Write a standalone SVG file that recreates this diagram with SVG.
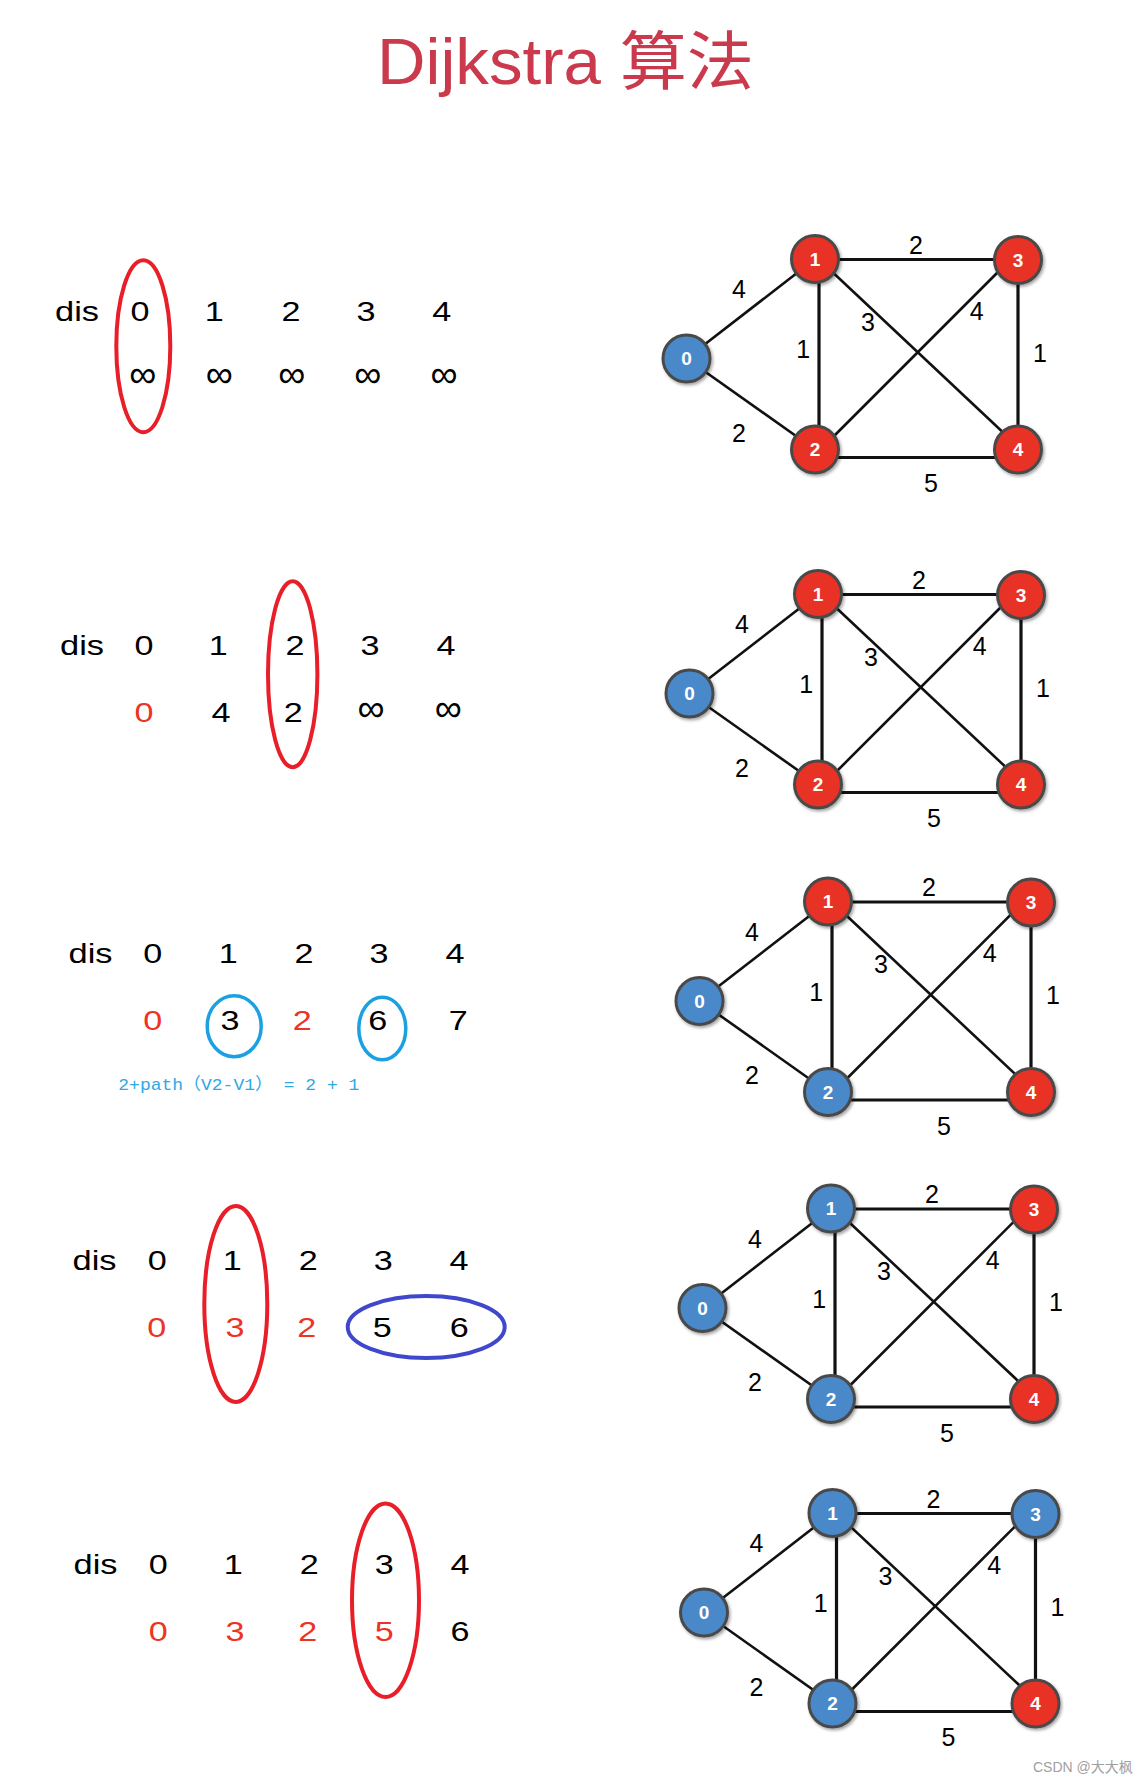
<svg xmlns="http://www.w3.org/2000/svg" width="1148" height="1784" viewBox="0 0 1148 1784">
<defs>
<style>
text{font-family:"Liberation Sans",Arial,"Noto Sans CJK SC",sans-serif}
.title{font-size:64px;fill:#cb3a4c}
.t{font-size:28.5px;fill:#000;text-anchor:middle}
.inf{font-size:38px;fill:#000;text-anchor:middle}
.dis{font-size:28.5px;fill:#000}
.r{fill:#ec3324}
.el{font-size:25px;fill:#000;text-anchor:middle}
.nl{font-size:19px;font-weight:bold;fill:#fff;text-anchor:middle}
.e{stroke:#111;stroke-width:3.2;fill:none}
.d{stroke:#111;stroke-width:2.6;fill:none}
.nb{fill:#4a89c9;stroke:#4a4a4a;stroke-width:3;filter:url(#sh)}
.nr{fill:#e93125;stroke:#4a4a4a;stroke-width:3;filter:url(#sh)}
.ring{fill:none;stroke:#e81e28;stroke-width:4}
.cyan{fill:none;stroke:#1ba1e2;stroke-width:3.5}
.indigo{fill:none;stroke:#3f48cc;stroke-width:4}
.note{font-family:"Liberation Mono","Noto Sans CJK SC",monospace;font-size:17px;fill:#2fa8e6}
.wm{font-family:"Liberation Sans","Noto Sans CJK SC",sans-serif;font-size:14px;fill:#a0a0a0}
</style>
<filter id="sh" x="-30%" y="-30%" width="170%" height="170%">
<feDropShadow dx="1.5" dy="2" stdDeviation="1.5" flood-color="#000" flood-opacity="0.35"/>
</filter>
<g id="edges">
<line class="d" x1="0" y1="0" x2="128.5" y2="-99.5"/>
<line class="d" x1="0" y1="0" x2="128.5" y2="91"/>
<line class="e" x1="132.5" y1="-99.5" x2="132.5" y2="91"/>
<line class="e" x1="128.5" y1="-99" x2="331.5" y2="-99"/>
<line class="e" x1="331.5" y1="-98.5" x2="331.5" y2="91"/>
<line class="e" x1="128.5" y1="99" x2="331.5" y2="99"/>
<line class="d" x1="140" y1="-92" x2="322" y2="79"/>
<line class="d" x1="140" y1="85" x2="318" y2="-93"/>
</g>
<g id="elabels">
<text class="el" x="52.5" y="-60.3">4</text>
<text class="el" x="229.5" y="-104.6">2</text>
<text class="el" x="181.5" y="-27.9">3</text>
<text class="el" x="290.2" y="-38.6">4</text>
<text class="el" x="116.8" y="-0.3">1</text>
<text class="el" x="353.5" y="3.1">1</text>
<text class="el" x="52.5" y="83.1">2</text>
<text class="el" x="244.5" y="133.7">5</text>
</g>
</defs>

<text class="title" x="377" y="84" textLength="377" lengthAdjust="spacingAndGlyphs">Dijkstra 算法</text>

<!-- Table 1 -->
<g id="table1">
<text class="dis" x="55" y="321" textLength="44" lengthAdjust="spacingAndGlyphs">dis</text>
<text class="t" x="140" y="321" textLength="19" lengthAdjust="spacingAndGlyphs">0</text>
<text class="t" x="214.3" y="321" textLength="19" lengthAdjust="spacingAndGlyphs">1</text>
<text class="t" x="291" y="321" textLength="19" lengthAdjust="spacingAndGlyphs">2</text>
<text class="t" x="366" y="321" textLength="19" lengthAdjust="spacingAndGlyphs">3</text>
<text class="t" x="441.7" y="321" textLength="19" lengthAdjust="spacingAndGlyphs">4</text>
<text class="inf" x="142.7" y="387.3">∞</text>
<text class="inf" x="219.3" y="387.3">∞</text>
<text class="inf" x="291.7" y="387.3">∞</text>
<text class="inf" x="367.7" y="387.3">∞</text>
<text class="inf" x="444" y="387.3">∞</text>
<ellipse class="ring" cx="143.3" cy="346.2" rx="27" ry="86"/>
</g>

<!-- Table 2 -->
<g id="table2">
<text class="dis" x="60" y="655" textLength="44" lengthAdjust="spacingAndGlyphs">dis</text>
<text class="t" x="144" y="655" textLength="19" lengthAdjust="spacingAndGlyphs">0</text>
<text class="t" x="218.3" y="655" textLength="19" lengthAdjust="spacingAndGlyphs">1</text>
<text class="t" x="295" y="655" textLength="19" lengthAdjust="spacingAndGlyphs">2</text>
<text class="t" x="370" y="655" textLength="19" lengthAdjust="spacingAndGlyphs">3</text>
<text class="t" x="446" y="655" textLength="19" lengthAdjust="spacingAndGlyphs">4</text>
<text class="t r" x="144" y="721.7" textLength="19" lengthAdjust="spacingAndGlyphs">0</text>
<text class="t" x="221" y="721.7" textLength="19" lengthAdjust="spacingAndGlyphs">4</text>
<text class="t" x="293.3" y="721.7" textLength="19" lengthAdjust="spacingAndGlyphs">2</text>
<text class="inf" x="371" y="720.7">∞</text>
<text class="inf" x="448.3" y="720.7">∞</text>
<ellipse class="ring" cx="292.7" cy="674.3" rx="24.7" ry="93"/>
</g>

<!-- Table 3 -->
<g id="table3">
<text class="dis" x="68.5" y="963.3" textLength="44" lengthAdjust="spacingAndGlyphs">dis</text>
<text class="t" x="152.7" y="963.3" textLength="19" lengthAdjust="spacingAndGlyphs">0</text>
<text class="t" x="228.3" y="963.3" textLength="19" lengthAdjust="spacingAndGlyphs">1</text>
<text class="t" x="304" y="963.3" textLength="19" lengthAdjust="spacingAndGlyphs">2</text>
<text class="t" x="379" y="963.3" textLength="19" lengthAdjust="spacingAndGlyphs">3</text>
<text class="t" x="455" y="963.3" textLength="19" lengthAdjust="spacingAndGlyphs">4</text>
<text class="t r" x="152.7" y="1030" textLength="19" lengthAdjust="spacingAndGlyphs">0</text>
<text class="t" x="230" y="1030" textLength="19" lengthAdjust="spacingAndGlyphs">3</text>
<text class="t r" x="302.3" y="1030" textLength="19" lengthAdjust="spacingAndGlyphs">2</text>
<text class="t" x="377.7" y="1030" textLength="19" lengthAdjust="spacingAndGlyphs">6</text>
<text class="t" x="458.3" y="1030" textLength="19" lengthAdjust="spacingAndGlyphs">7</text>
<ellipse class="cyan" cx="234.2" cy="1026.2" rx="27" ry="30.5"/>
<ellipse class="cyan" cx="382.3" cy="1028.5" rx="23.5" ry="31.3"/>
<text class="note" x="118.3" y="1090" textLength="241" lengthAdjust="spacingAndGlyphs">2+path（V2-V1） = 2 + 1</text>
</g>

<!-- Table 4 -->
<g id="table4">
<text class="dis" x="72.5" y="1270" textLength="44" lengthAdjust="spacingAndGlyphs">dis</text>
<text class="t" x="157.3" y="1270" textLength="19" lengthAdjust="spacingAndGlyphs">0</text>
<text class="t" x="232.3" y="1270" textLength="19" lengthAdjust="spacingAndGlyphs">1</text>
<text class="t" x="308.3" y="1270" textLength="19" lengthAdjust="spacingAndGlyphs">2</text>
<text class="t" x="383.3" y="1270" textLength="19" lengthAdjust="spacingAndGlyphs">3</text>
<text class="t" x="459" y="1270" textLength="19" lengthAdjust="spacingAndGlyphs">4</text>
<text class="t r" x="156.7" y="1336.7" textLength="19" lengthAdjust="spacingAndGlyphs">0</text>
<text class="t r" x="235" y="1336.7" textLength="19" lengthAdjust="spacingAndGlyphs">3</text>
<text class="t r" x="306.7" y="1336.7" textLength="19" lengthAdjust="spacingAndGlyphs">2</text>
<text class="t" x="382.3" y="1336.7" textLength="19" lengthAdjust="spacingAndGlyphs">5</text>
<text class="t" x="459.3" y="1336.7" textLength="19" lengthAdjust="spacingAndGlyphs">6</text>
<ellipse class="ring" cx="235.8" cy="1304" rx="31.5" ry="98"/>
<ellipse class="indigo" cx="426.2" cy="1327" rx="78.5" ry="31"/>
</g>

<!-- Table 5 -->
<g id="table5">
<text class="dis" x="73.5" y="1574" textLength="44" lengthAdjust="spacingAndGlyphs">dis</text>
<text class="t" x="158.3" y="1574" textLength="19" lengthAdjust="spacingAndGlyphs">0</text>
<text class="t" x="233.3" y="1574" textLength="19" lengthAdjust="spacingAndGlyphs">1</text>
<text class="t" x="309.3" y="1574" textLength="19" lengthAdjust="spacingAndGlyphs">2</text>
<text class="t" x="384.3" y="1574" textLength="19" lengthAdjust="spacingAndGlyphs">3</text>
<text class="t" x="460" y="1574" textLength="19" lengthAdjust="spacingAndGlyphs">4</text>
<text class="t r" x="158.3" y="1640.7" textLength="19" lengthAdjust="spacingAndGlyphs">0</text>
<text class="t r" x="235" y="1640.7" textLength="19" lengthAdjust="spacingAndGlyphs">3</text>
<text class="t r" x="307.7" y="1640.7" textLength="19" lengthAdjust="spacingAndGlyphs">2</text>
<text class="t r" x="384.3" y="1640.7" textLength="19" lengthAdjust="spacingAndGlyphs">5</text>
<text class="t" x="460" y="1640.7" textLength="19" lengthAdjust="spacingAndGlyphs">6</text>
<ellipse class="ring" cx="385.5" cy="1600.3" rx="33.5" ry="96.7"/>
</g>

<!-- Connectors -->
<g id="connectors">
<g transform="translate(686.5,358.5)"><use href="#edges"/><use href="#elabels"/></g>
<g transform="translate(689.5,693.5)"><use href="#edges"/><use href="#elabels"/></g>
<g transform="translate(699.5,1001)"><use href="#edges"/><use href="#elabels"/></g>
<g transform="translate(702.5,1308)"><use href="#edges"/><use href="#elabels"/></g>
<g transform="translate(704,1612.5)"><use href="#edges"/><use href="#elabels"/></g>
</g>

<!-- Graph 1 nodes -->
<g transform="translate(686.5,358.5)">
<g id="g1-n0"><circle class="nb" cx="0" cy="0" r="23.5"/><text class="nl" x="0" y="6.8">0</text></g>
<g id="g1-n1"><circle class="nr" cx="128.5" cy="-99.5" r="23.5"/><text class="nl" x="128.5" y="-92.7">1</text></g>
<g id="g1-n2"><circle class="nr" cx="128.5" cy="91" r="23.5"/><text class="nl" x="128.5" y="97.8">2</text></g>
<g id="g1-n3"><circle class="nr" cx="331.5" cy="-98.5" r="23.5"/><text class="nl" x="331.5" y="-91.7">3</text></g>
<g id="g1-n4"><circle class="nr" cx="331.5" cy="91" r="23.5"/><text class="nl" x="331.5" y="97.8">4</text></g>
</g>
<!-- Graph 2 nodes -->
<g transform="translate(689.5,693.5)">
<g id="g2-n0"><circle class="nb" cx="0" cy="0" r="23.5"/><text class="nl" x="0" y="6.8">0</text></g>
<g id="g2-n1"><circle class="nr" cx="128.5" cy="-99.5" r="23.5"/><text class="nl" x="128.5" y="-92.7">1</text></g>
<g id="g2-n2"><circle class="nr" cx="128.5" cy="91" r="23.5"/><text class="nl" x="128.5" y="97.8">2</text></g>
<g id="g2-n3"><circle class="nr" cx="331.5" cy="-98.5" r="23.5"/><text class="nl" x="331.5" y="-91.7">3</text></g>
<g id="g2-n4"><circle class="nr" cx="331.5" cy="91" r="23.5"/><text class="nl" x="331.5" y="97.8">4</text></g>
</g>
<!-- Graph 3 nodes -->
<g transform="translate(699.5,1001)">
<g id="g3-n0"><circle class="nb" cx="0" cy="0" r="23.5"/><text class="nl" x="0" y="6.8">0</text></g>
<g id="g3-n1"><circle class="nr" cx="128.5" cy="-99.5" r="23.5"/><text class="nl" x="128.5" y="-92.7">1</text></g>
<g id="g3-n2"><circle class="nb" cx="128.5" cy="91" r="23.5"/><text class="nl" x="128.5" y="97.8">2</text></g>
<g id="g3-n3"><circle class="nr" cx="331.5" cy="-98.5" r="23.5"/><text class="nl" x="331.5" y="-91.7">3</text></g>
<g id="g3-n4"><circle class="nr" cx="331.5" cy="91" r="23.5"/><text class="nl" x="331.5" y="97.8">4</text></g>
</g>
<!-- Graph 4 nodes -->
<g transform="translate(702.5,1308)">
<g id="g4-n0"><circle class="nb" cx="0" cy="0" r="23.5"/><text class="nl" x="0" y="6.8">0</text></g>
<g id="g4-n1"><circle class="nb" cx="128.5" cy="-99.5" r="23.5"/><text class="nl" x="128.5" y="-92.7">1</text></g>
<g id="g4-n2"><circle class="nb" cx="128.5" cy="91" r="23.5"/><text class="nl" x="128.5" y="97.8">2</text></g>
<g id="g4-n3"><circle class="nr" cx="331.5" cy="-98.5" r="23.5"/><text class="nl" x="331.5" y="-91.7">3</text></g>
<g id="g4-n4"><circle class="nr" cx="331.5" cy="91" r="23.5"/><text class="nl" x="331.5" y="97.8">4</text></g>
</g>
<!-- Graph 5 nodes -->
<g transform="translate(704,1612.5)">
<g id="g5-n0"><circle class="nb" cx="0" cy="0" r="23.5"/><text class="nl" x="0" y="6.8">0</text></g>
<g id="g5-n1"><circle class="nb" cx="128.5" cy="-99.5" r="23.5"/><text class="nl" x="128.5" y="-92.7">1</text></g>
<g id="g5-n2"><circle class="nb" cx="128.5" cy="91" r="23.5"/><text class="nl" x="128.5" y="97.8">2</text></g>
<g id="g5-n3"><circle class="nb" cx="331.5" cy="-98.5" r="23.5"/><text class="nl" x="331.5" y="-91.7">3</text></g>
<g id="g5-n4"><circle class="nr" cx="331.5" cy="91" r="23.5"/><text class="nl" x="331.5" y="97.8">4</text></g>
</g>

<text class="wm" x="1033" y="1772">CSDN @大大枫</text>
</svg>
